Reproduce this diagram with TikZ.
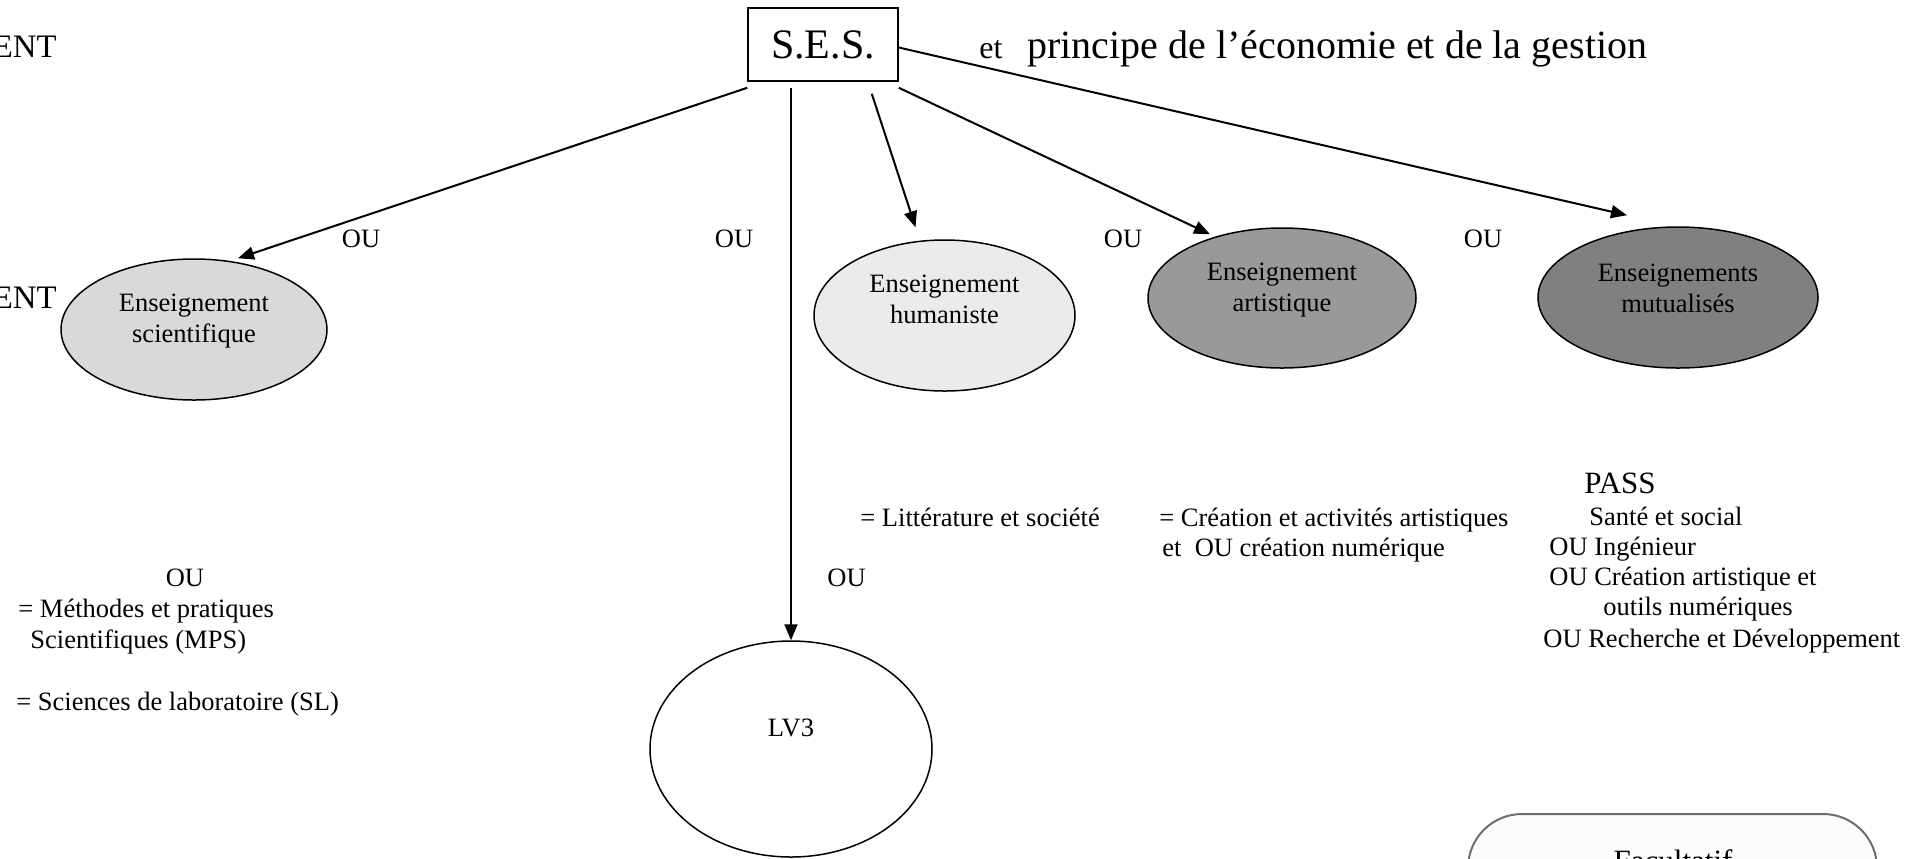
\documentclass[tikz,border=0pt]{standalone}
\usepackage{fontspec}
\setmainfont{Liberation Serif}
\usetikzlibrary{shapes}
\usetikzlibrary{positioning}
\usetikzlibrary{arrows.meta}
\definecolor{scigray}{HTML}{D9D9D9}
\definecolor{humgray}{HTML}{EBEBEB}
\definecolor{artgray}{HTML}{999999}
\definecolor{mutgray}{HTML}{808080}
\definecolor{facborder}{HTML}{6E6E6E}
\definecolor{facfill}{HTML}{FCFCFC}
\tikzset{
    sesbox/.style = {rectangle, draw=black, line width=0.8pt, minimum width=75pt, minimum height=36.5pt, inner sep=0pt, font=\fontsize{21}{24}\selectfont},
    blob/.style = {ellipse, draw=black, line width=0.75pt, inner sep=0pt},
    blobtxt/.style = {align=center, font=\fontsize{13.25}{15.5}\selectfont},
    txt/.style = {inner sep=0pt, anchor=base west, font=\fontsize{13.25}{15.5}\selectfont},
    ou/.style = {inner sep=0pt, anchor=base, font=\fontsize{13.25}{15.5}\selectfont},
    bigtxt/.style = {inner sep=0pt, anchor=base west, font=\fontsize{20}{24}\selectfont},
    midtxt/.style = {inner sep=0pt, anchor=base, font=\fontsize{15.5}{18}\selectfont},
    ent/.style = {inner sep=0pt, anchor=base east, font=\fontsize{16.4}{19}\selectfont},
    facbox/.style = {rectangle, rounded corners=27pt, draw=facborder, line width=1pt, fill=facfill, minimum width=204.5pt, minimum height=80pt, inner sep=0pt},
    edgen/.style = {-{Triangle[length=8pt,width=6.5pt]}, line width=1pt}
}

\begin{document}
\begin{tikzpicture}[x=0.5pt,y=-0.5pt]
\useasboundingbox (0,0) rectangle (1926,858);
\clip (0,0) rectangle (1926,858);
%
\node[ent] at (57,57) (ent1) {ENT};
\node[ent] at (57,308) (ent2) {ENT};
\node[sesbox] at (823,44.5) (ses) {S.E.S.};
\node[txt, font=\fontsize{16}{19}\selectfont] at (979,58) (et) {et};
\node[bigtxt] at (1027,58) (ppe) {principe de l’économie et de la gestion};
%
\node[blob, fill=scigray, minimum width=133pt, minimum height=70.5pt,
      label={[blobtxt, yshift=4.2pt]center:Enseignement\\scientifique}] at (194,329.5) (sci) {};
\node[blob, fill=humgray, minimum width=130.5pt, minimum height=75.5pt,
      label={[blobtxt, yshift=8.1pt]center:Enseignement\\humaniste}] at (944.5,315.5) (hum) {};
\node[blob, fill=artgray, minimum width=134pt, minimum height=70pt,
      label={[blobtxt, yshift=3.9pt]center:Enseignement\\artistique}] at (1282,298) (art) {};
\node[blob, fill=mutgray, minimum width=140pt, minimum height=70.5pt,
      label={[blobtxt, yshift=4.6pt]center:Enseignements\\mutualisés}] at (1678,297.5) (mut) {};
\node[blob, fill=white, minimum width=141pt, minimum height=108pt,
      label={[blobtxt, yshift=10.4pt]center:LV3}] at (791,749) (lv3) {};
%
\node[ou] at (361,247) (ou1) {OU};
\node[ou] at (734,247) (ou2) {OU};
\node[ou] at (1123,247) (ou3) {OU};
\node[ou] at (1483,247) (ou4) {OU};
\node[ou] at (846.5,586) (ou5) {OU};
\node[ou] at (185,586) (ou6) {OU};
%
\node[txt] at (18,617) (mps1) {= Méthodes et pratiques};
\node[txt] at (30,648) (mps2) {Scientifiques (MPS)};
\node[txt] at (16,710) (sl) {= Sciences de laboratoire (SL)};
\node[txt] at (860,526) (lit) {= Littérature et société};
\node[txt] at (1159,526) (cre1) {= Création et activités artistiques};
\node[txt] at (1162,556) (cre2) {et\ \ OU création numérique};
\node[midtxt] at (1620,493) (pass) {PASS};
\node[txt] at (1589,525) (m1) {Santé et social};
\node[txt] at (1549,555) (m2) {OU Ingénieur};
\node[txt] at (1549,585) (m3) {OU Création artistique et};
\node[txt] at (1603,615) (m4) {outils numériques};
\node[txt] at (1543,647) (m5) {OU Recherche et Développement};
%
\node[facbox, anchor=north] at (1672.5,813) (fac) {};
\node[midtxt] at (1673,871) (factxt) {Facultatif};
%
\draw[edgen] ([yshift=-3pt]ses.south west) -- ([xshift=22pt]sci.north);
\draw[edgen, shorten <=3pt] (ses.south -| lv3.north) -- (lv3.north);
\draw[edgen] ([xshift=-13.5pt,yshift=-6pt]ses.south east) -- ([xshift=-14.5pt,yshift=6pt]hum.north);
\draw[edgen] ([yshift=-3pt]ses.south east) -- ([xshift=-36pt,yshift=-3.5pt]art.north);
\draw[edgen] ([yshift=-1.5pt]ses.east) -- ([xshift=-25.5pt,yshift=5.5pt]mut.north);
\end{tikzpicture}
\end{document}
